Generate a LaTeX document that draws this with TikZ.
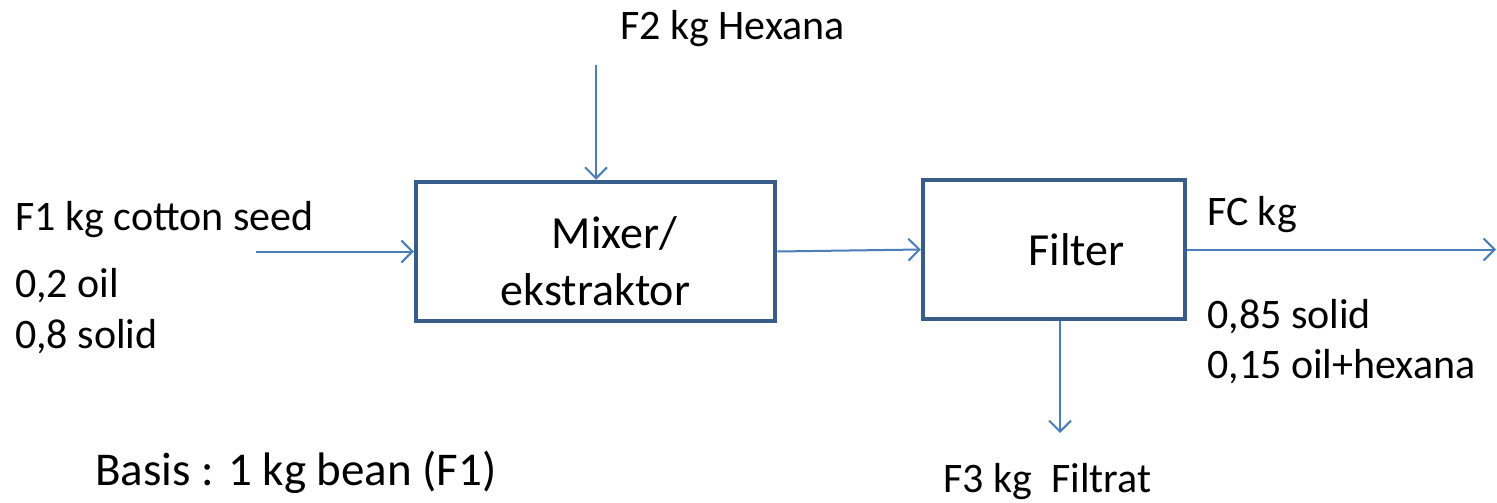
\documentclass[tikz,border=0pt]{standalone}
\usepackage{fontspec}
\setmainfont{Carlito}
\usetikzlibrary{arrows.meta}
\definecolor{boxblue}{HTML}{385D8A}
\definecolor{lineblue}{HTML}{4A7EBB}
\begin{document}
\begin{tikzpicture}[x=1pt,y=-1pt,
		unit/.style={draw=boxblue, line width=4.5pt, fill=white, inner sep=0pt, font=\fontsize{46}{57}\selectfont},
		flow/.style={-{Straight Barb[length=11pt,width=22pt]}, draw=lineblue, line width=2pt},
		lbl/.style={anchor=base west, inner sep=0pt, font=\fontsize{42}{50}\selectfont}]
		\useasboundingbox (0,0) rectangle (1497,503);
		\node[unit, minimum width=359pt, minimum height=139pt, align=center] (mix) at (595.5,251.5) {\rule{0pt}{51pt}\hspace*{38pt}Mixer/\\ekstraktor};
		\node[unit, minimum width=262pt, minimum height=139pt] (filt) at (1054,249.5) {\hspace*{45pt}Filter};
		\node[lbl] (f2) at (620,40) {F2 kg Hexana};
		\node[lbl] (f1) at (15,230) {F1 kg cotton seed};
		\node[lbl] (f1oil) at (15,297) {0,2 oil};
		\node[lbl] (f1solid) at (15,348) {0,8 solid};
		\node[lbl] (fc) at (1207,225) {FC kg};
		\node[lbl] (fcsolid) at (1207,328) {0,85 solid};
		\node[lbl] (fcoil) at (1207,378) {0,15 oil+hexana};
		\node[lbl] (f3) at (943,492) {F3 kg\ \ Filtrat};
		\node[lbl, font=\fontsize{47}{55}\selectfont] (basis) at (95,485) {Basis : 1 kg bean (F1)};
		\coordinate (f1in) at (256,251.5);
		\coordinate (f2in) at (596,65);
		\coordinate (fcout) at (1496,249.5);
		\coordinate (f3out) at (1060,433);
		\draw[flow] (f1in) -- (mix.west);
		\draw[flow] (f2in) -- (f2in |- mix.north);
		\draw[flow] (mix.east) -- (filt.west);
		\draw[flow] (filt.east) -- (fcout);
		\draw[flow] (f3out |- filt.south) -- (f3out);
\end{tikzpicture}
\end{document}
